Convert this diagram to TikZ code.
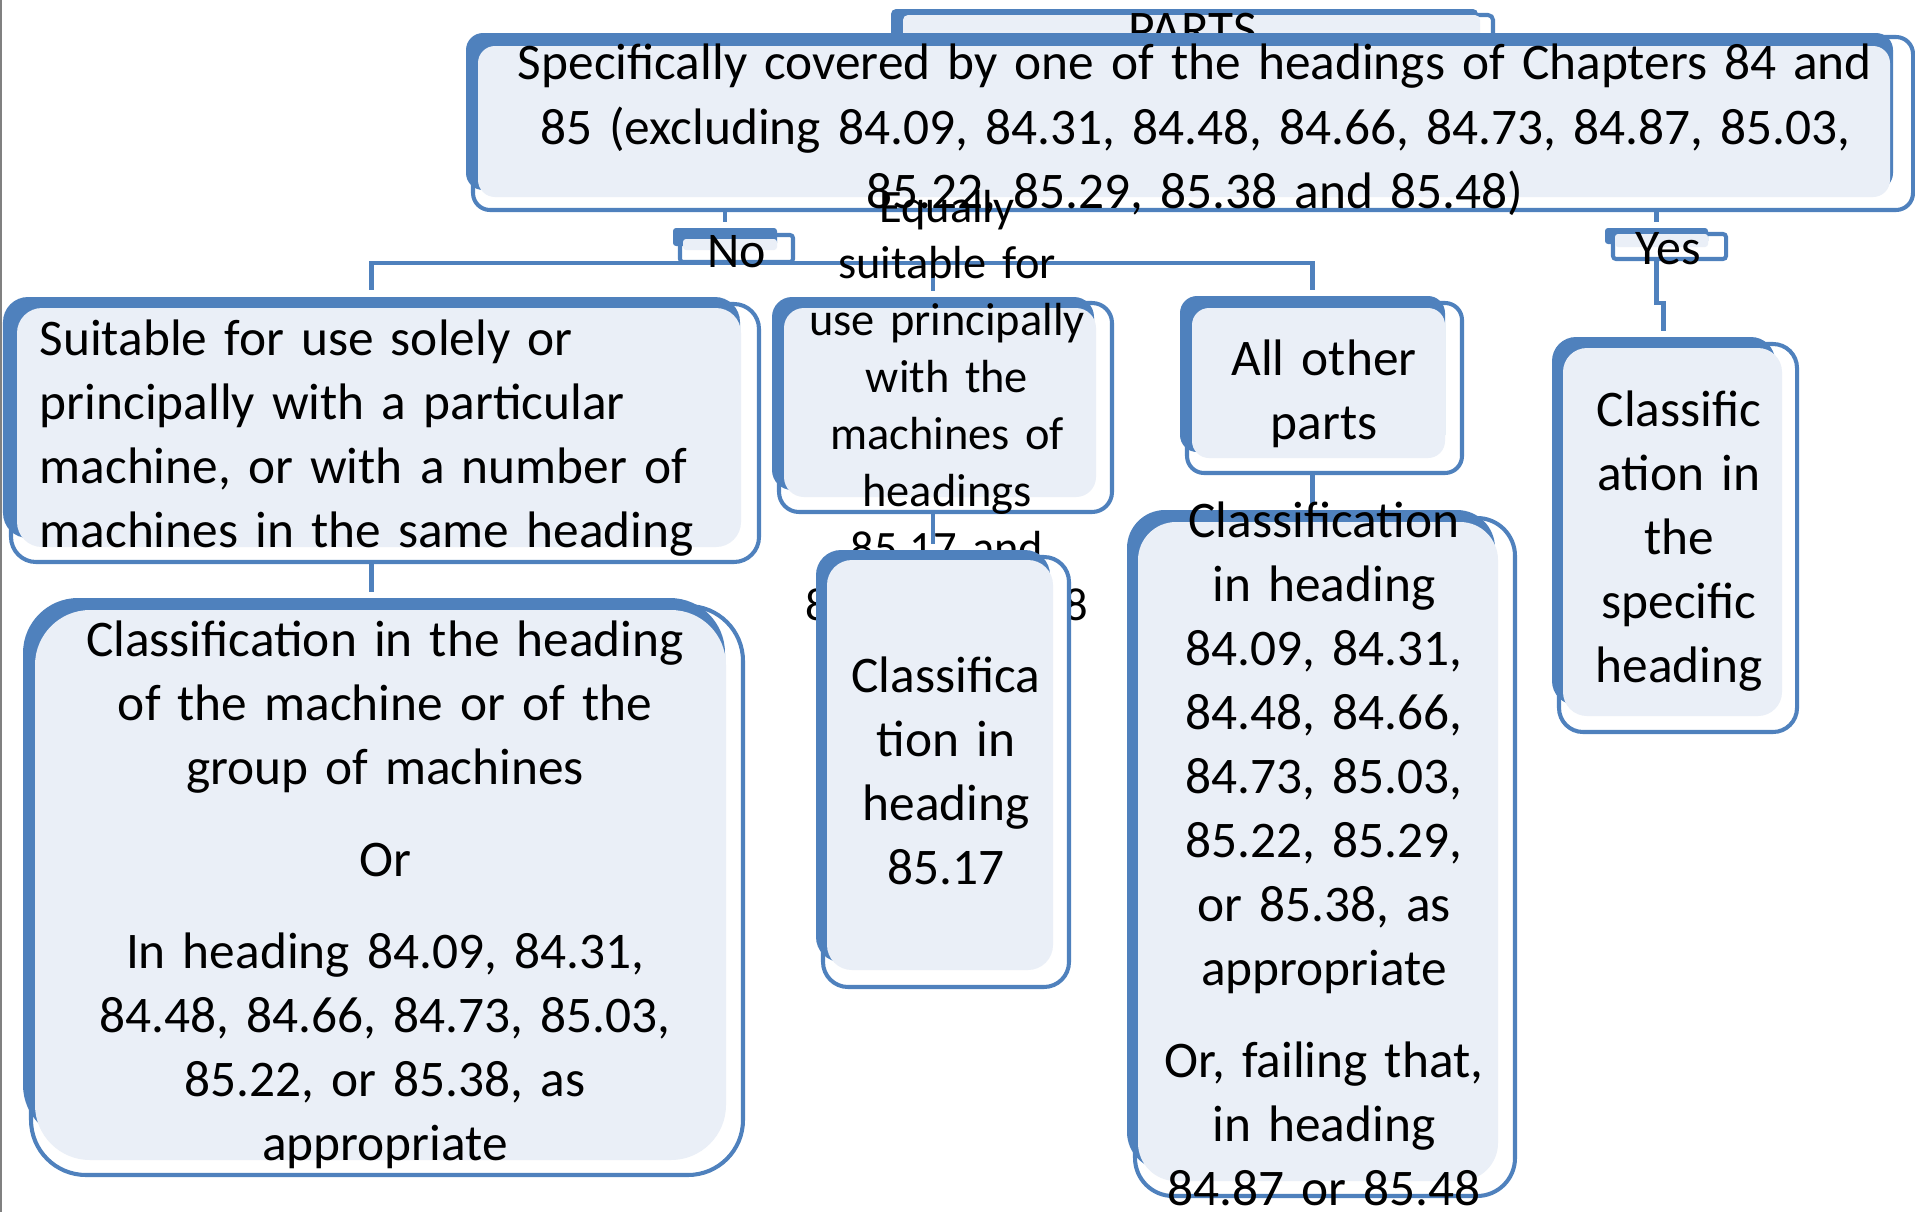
\documentclass[tikz,border=0pt]{standalone}
\usepackage{fontspec}
\setmainfont{Carlito}
\usepackage{tikz}
\usetikzlibrary{fit}

\definecolor{partblue}{RGB}{79,129,189}
\definecolor{partface}{RGB}{234,239,247}

\tikzset{
  frame/.style={inner sep=0pt, outer sep=0pt},
  shell/.style={draw=partblue, fill=white, line width=1.15pt},
  cover/.style={fill=partblue},
  face/.style={fill=partface},
  conn/.style={draw=partblue, line width=1.4pt, shorten >=0.06cm},
  txt/.style={inner sep=0pt, anchor=base, align=center, text width=8cm,
    font=\fontsize{14.6}{18.2}\selectfont},
}

\begin{document}
\begin{tikzpicture}[x=0.01cm, y=-0.01cm]
        \useasboundingbox (0,0) rectangle (1915,1212);

        % Thin rule on the left edge
        \draw[gray, line width=0.5pt] (1,0) -- (1,1212);

        % Blue frames of the boxes
        \node[frame, fit={(891,9) (1478,95)}] (parts) {};
        \node[frame, fit={(466,33) (1893,190)}] (top) {};
        \node[frame, fit={(673,228) (777,246)}] (no) {};
        \node[frame, fit={(1605,228) (1708,244)}] (yes) {};
        \node[frame, fit={(3,297) (740,538)}] (suit) {};
        \node[frame, fit={(23,598) (725,1140)}] (classL) {};
        \node[frame, fit={(772,297) (1094,490)}] (equal) {};
        \node[frame, fit={(816,550) (1050,962)}] (cls8517) {};
        \node[frame, fit={(1180,296) (1445,452)}] (other) {};
        \node[frame, fit={(1127,510) (1495,1170)}] (clsOther) {};
        \node[frame, fit={(1552,337) (1775,705)}] (spec) {};
        \coordinate (bus) at (725,263);

        % Connectors
        \draw[conn] (no |- top.south) -- (no.north);
        \draw[conn] (yes |- top.south) -- (yes.north);
        \draw[conn, shorten <=0.07cm] (suit.north) |- (bus) -| (other.north);
        \draw[conn] (bus -| equal.north) -- (equal.north);
        \draw[conn] (yes.south) -- ++(0,59) -| (spec.north);
        \draw[conn] (suit.south) -- (suit.south |- classL.north);
        \draw[conn] (equal.south) -- (equal.south |- cls8517.north);
        \draw[conn] (other.south) -- (other.south |- clsOther.north);

        % PARTS box (mostly hidden)
        \begin{scope}[rounded corners=0.05cm]
            \draw[shell] (897,15) rectangle (1493,110);
            \fill[cover] (parts.north west) rectangle (parts.south east);
            \fill[face] (903,15) rectangle (1480,100);
        \end{scope}
        \node[txt] (partsText) at (1193,47) {PARTS};

        % Top question box
        \begin{scope}[rounded corners=0.17cm]
            \draw[shell] (473,37) rectangle (1913,210);
            \fill[cover] (top.north west) rectangle (top.south east);
            \fill[face] (478,46) rectangle (1890,197);
        \end{scope}
        \node[txt, text width=14.5cm] (topText) at (1195,80) {Specifically covered by one of the headings of Chapters 84 and\\85 (excluding 84.09, 84.31, 84.48, 84.66, 84.73, 84.87, 85.03,\\85.22, 85.29, 85.38 and 85.48)};

        % No / Yes labels
        \begin{scope}[rounded corners=0.03cm]
            \draw[shell] (680,235) rectangle (793,262);
            \fill[cover] (no.north west) rectangle (no.south east);
            \fill[face] (683,239) rectangle (777,250);
            \draw[shell] (1613,234) rectangle (1726,259);
            \fill[cover] (yes.north west) rectangle (yes.south east);
            \fill[face] (1615,234) rectangle (1708,247);
        \end{scope}
        \node[txt, font=\fontsize{14.2}{17}\selectfont] (noText) at (737,267) {No};
        \node[txt, font=\fontsize{14.2}{17}\selectfont] (yesText) at (1668,264) {Yes};

        % Left branch
        \begin{scope}[rounded corners=0.25cm]
            \draw[shell] (11,304) rectangle (759,562);
            \fill[cover] (suit.north west) rectangle (suit.south east);
            \fill[face] (17,308) rectangle (741,547);
        \end{scope}
        \node[txt, anchor=base west, align=left, text width=7.2cm] (suitText) at (39,355) {Suitable for use solely or\\principally with a particular\\machine, or with a number of\\machines in the same heading};

        \begin{scope}[rounded corners=0.55cm]
            \draw[shell] (31,606) rectangle (743,1175);
            \fill[cover] (classL.north west) rectangle (classL.south east);
            \fill[face] (35,610) rectangle (726,1160);
        \end{scope}
        \node[txt] (classLText) at (385,656) {Classification in the heading\\of the machine or of the\\group of machines\\[8pt]Or\\[8pt]In heading 84.09, 84.31,\\84.48, 84.66, 84.73, 85.03,\\85.22, or 85.38, as\\appropriate};

        % Middle branch
        \begin{scope}[rounded corners=0.2cm]
            \draw[shell] (779,303) rectangle (1112,512);
            \fill[cover] (equal.north west) rectangle (equal.south east);
            \fill[face] (784,308) rectangle (1096,497);
        \end{scope}
        \node[txt, font=\fontsize{13.2}{16.2}\selectfont] (equalText) at (947,222) {Equally\\suitable for\\use principally\\with the\\machines of\\headings\\85.17 and\\85.25 to 85.28};

        \begin{scope}[rounded corners=0.25cm]
            \draw[shell] (823,557) rectangle (1069,987);
            \fill[cover] (cls8517.north west) rectangle (cls8517.south east);
            \fill[face] (827,560) rectangle (1053,970);
        \end{scope}
        \node[txt] (cls8517Text) at (946,692) {Classifica\\tion in\\heading\\85.17};

        % Right branch
        \begin{scope}[rounded corners=0.17cm]
            \draw[shell] (1187,303) rectangle (1462,473);
            \fill[cover] (other.north west) rectangle (other.south east);
            \fill[face] (1192,308) rectangle (1445,458);
        \end{scope}
        \node[txt] (otherText) at (1324,375) {All other\\parts};

        \begin{scope}[rounded corners=0.38cm]
            \draw[shell] (1135,518) rectangle (1515,1196);
            \fill[cover] (clsOther.north west) rectangle (clsOther.south east);
            \fill[face] (1138,522) rectangle (1498,1181);
        \end{scope}
        \node[txt] (clsOtherText) at (1324,537) {Classification\\in heading\\84.09, 84.31,\\84.48, 84.66,\\84.73, 85.03,\\85.22, 85.29,\\or 85.38, as\\appropriate\\[8pt]Or, failing that,\\in heading\\84.87 or 85.48};

        % Yes branch
        \begin{scope}[rounded corners=0.24cm]
            \draw[shell] (1559,344) rectangle (1797,732);
            \fill[cover] (spec.north west) rectangle (spec.south east);
            \fill[face] (1563,348) rectangle (1782,716);
        \end{scope}
        \node[txt] (specText) at (1679,426) {Classific\\ation in\\the\\specific\\heading};
\end{tikzpicture}
\end{document}
